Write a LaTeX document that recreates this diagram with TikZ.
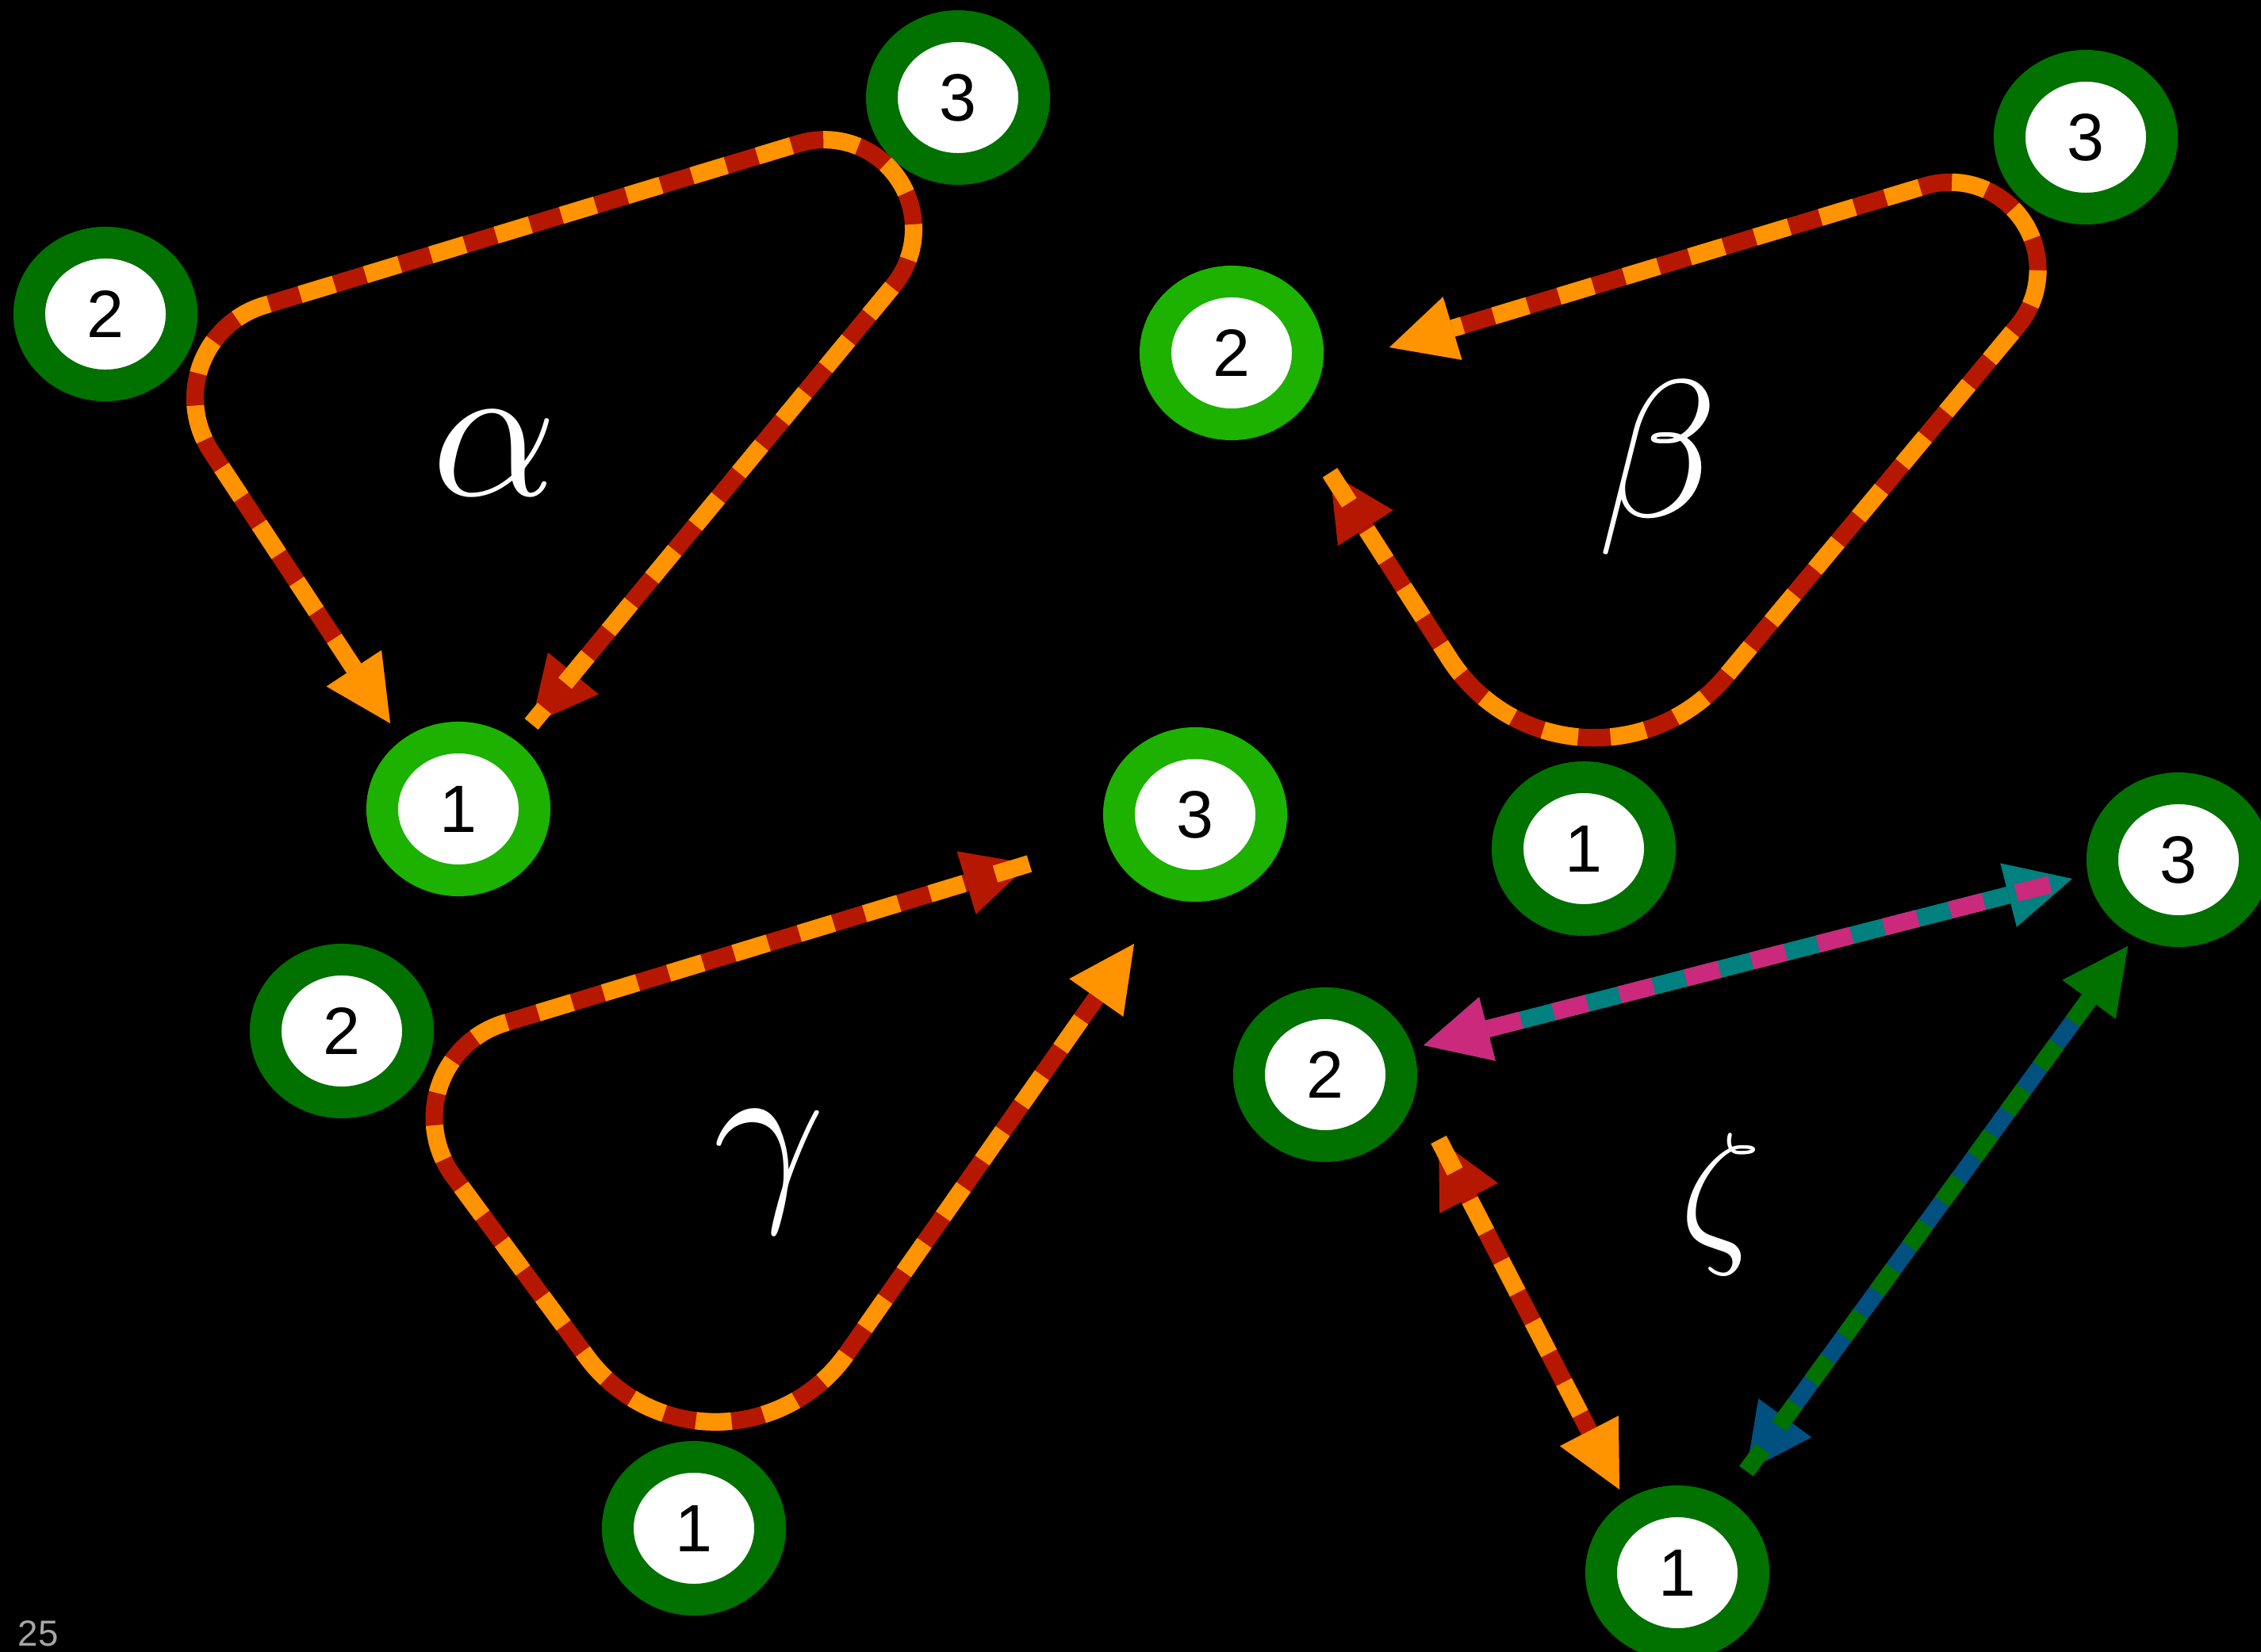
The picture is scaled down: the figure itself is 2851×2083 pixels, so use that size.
\documentclass[tikz,border=0pt]{standalone}
\usepackage{graphicx}
\usepackage{fontspec}
\setmainfont{Liberation Sans}
\usetikzlibrary{arrows.meta, calc, shapes.geometric}
\definecolor{mygreen}{RGB}{29,177,0}
\definecolor{mydkgreen}{RGB}{1,113,0}
\definecolor{myred}{RGB}{181,23,0}
\definecolor{myorange}{RGB}{255,147,0}
\definecolor{myteal}{RGB}{0,128,127}
\definecolor{mypink}{RGB}{203,41,123}
\definecolor{myblue}{RGB}{0,80,128}
\definecolor{mygrey}{RGB}{166,166,166}
\tikzset{
  >={Triangle[length=0.83cm, width=0.83cm, line width=0pt]},
  vertex/.style={ellipse, draw=mydkgreen, fill=white, line width=0.4cm,
    minimum width=1.92cm, minimum height=1.8cm, inner sep=0pt,
    font=\fontsize{24}{24}\selectfont},
  hivertex/.style={vertex, draw=mygreen},
  greek/.style={text=white, inner sep=0pt, font=\fontsize{10}{10}\selectfont},
  solidline/.style={line width=0.22cm, draw=#1},
  dashline/.style={line width=0.22cm, draw=#1, dash pattern=on 0.45cm off 0.41cm}
}
\begin{document}
\begin{tikzpicture}[x=0.01cm, y=-0.01cm]
  \fill[black] (0,0) rectangle (2851,2083);
  \useasboundingbox (0,0) rectangle (2851,2083);

  % alpha: both ends into 1
  \node[hivertex] (a1) at (578,1020) {1};
  \node[vertex]   (a2) at (133,396)  {2};
  \node[vertex]   (a3) at (1208,123) {3};
  \node[greek] (alab) at (624,572) {\scalebox{7}{$\alpha$}};
  \coordinate (a1l) at ($(a1)+(-86,-108)$);
  \coordinate (a1r) at ($(a1)+(92,-107)$);
  \draw[solidline=myred, <->] (a1l) -- (266,569)
    arc[start angle=146.7, end angle=253.2, radius=122] -- (1007,181)
    arc[start angle=-106.8, end angle=39.3, radius=112.5] -- (a1r);
  \draw[dashline=myorange, <-] (a1l) -- (266,569)
    arc[start angle=146.7, end angle=253.2, radius=122] -- (1007,181)
    arc[start angle=-106.8, end angle=39.3, radius=112.5] -- (a1r);

  % beta: both ends into 2
  \node[vertex]   (b1) at (1997,1070) {1};
  \node[hivertex] (b2) at (1553,445)  {2};
  \node[vertex]   (b3) at (2630,173)  {3};
  \node[greek] (blab) at (2091,590) {\scalebox{7}{$\beta$}};
  \coordinate (b2l) at ($(b2)+(124,151)$);
  \coordinate (b2r) at ($(b2)+(199,-7)$);
  \draw[solidline=myred, <->] (b2l) -- (1828,831)
    arc[start angle=147.2, end angle=39.9, radius=216.6] -- (2544,411)
    arc[start angle=39.8, end angle=-106.7, radius=110.5] -- (b2r);
  \draw[dashline=myorange, ->] (b2l) -- (1828,831)
    arc[start angle=147.2, end angle=39.9, radius=216.6] -- (2544,411)
    arc[start angle=39.8, end angle=-106.7, radius=110.5] -- (b2r);

  % gamma: both ends into 3
  \node[vertex]   (g1) at (875,1927)  {1};
  \node[vertex]   (g2) at (431,1300)  {2};
  \node[hivertex] (g3) at (1507,1027) {3};
  \node[greek] (glab) at (970,1477) {\scalebox{7}{$\gamma$}};
  \coordinate (g3l) at ($(g3)+(-209,62)$);
  \coordinate (g3r) at ($(g3)+(-77,163)$);
  \draw[solidline=myred, <->] (g3l) -- (636,1290)
    arc[start angle=-106.9, end angle=-216.5, radius=124.7] -- (740,1711)
    arc[start angle=143.5, end angle=35.2, radius=202] -- (g3r);
  \draw[dashline=myorange, ->] (g3l) -- (636,1290)
    arc[start angle=-106.9, end angle=-216.5, radius=124.7] -- (740,1711)
    arc[start angle=143.5, end angle=35.2, radius=202] -- (g3r);

  % zeta: three straight double arrows
  \node[vertex] (z1) at (2115,1983) {1};
  \node[vertex] (z2) at (1671,1355) {2};
  \node[vertex] (z3) at (2747,1084) {3};
  \node[greek] (zlab) at (2170,1518) {\scalebox{5.7}{$\zeta$}};
  \coordinate (z23a) at ($(z2)+(124,-37)$);
  \coordinate (z23b) at ($(z3)+(-134,24)$);
  \coordinate (z21a) at ($(z2)+(143,82)$);
  \coordinate (z21b) at ($(z1)+(-73,-105)$);
  \coordinate (z13a) at ($(z1)+(87,-128)$);
  \coordinate (z13b) at ($(z3)+(-64,109)$);
  \draw[solidline=myteal, <->] (z23a) -- (z23b);
  \draw[dashline=mypink, dash pattern=on 0.44cm off 0.42cm, <-] (z23a) -- (z23b);
  \draw[solidline=myred, <->] (z21a) -- (z21b);
  \draw[dashline=myorange, ->] (z21a) -- (z21b);
  \draw[solidline=myblue, <->] (z13a) -- (z13b);
  \draw[dashline=mydkgreen, dash pattern=on 0.35cm off 0.35cm, ->] (z13a) -- (z13b);

  \node[font=\fontsize{13}{13}\selectfont, text=mygrey, anchor=base west,
    inner sep=0pt] (page) at (22,2075) {25};
\end{tikzpicture}
\end{document}
